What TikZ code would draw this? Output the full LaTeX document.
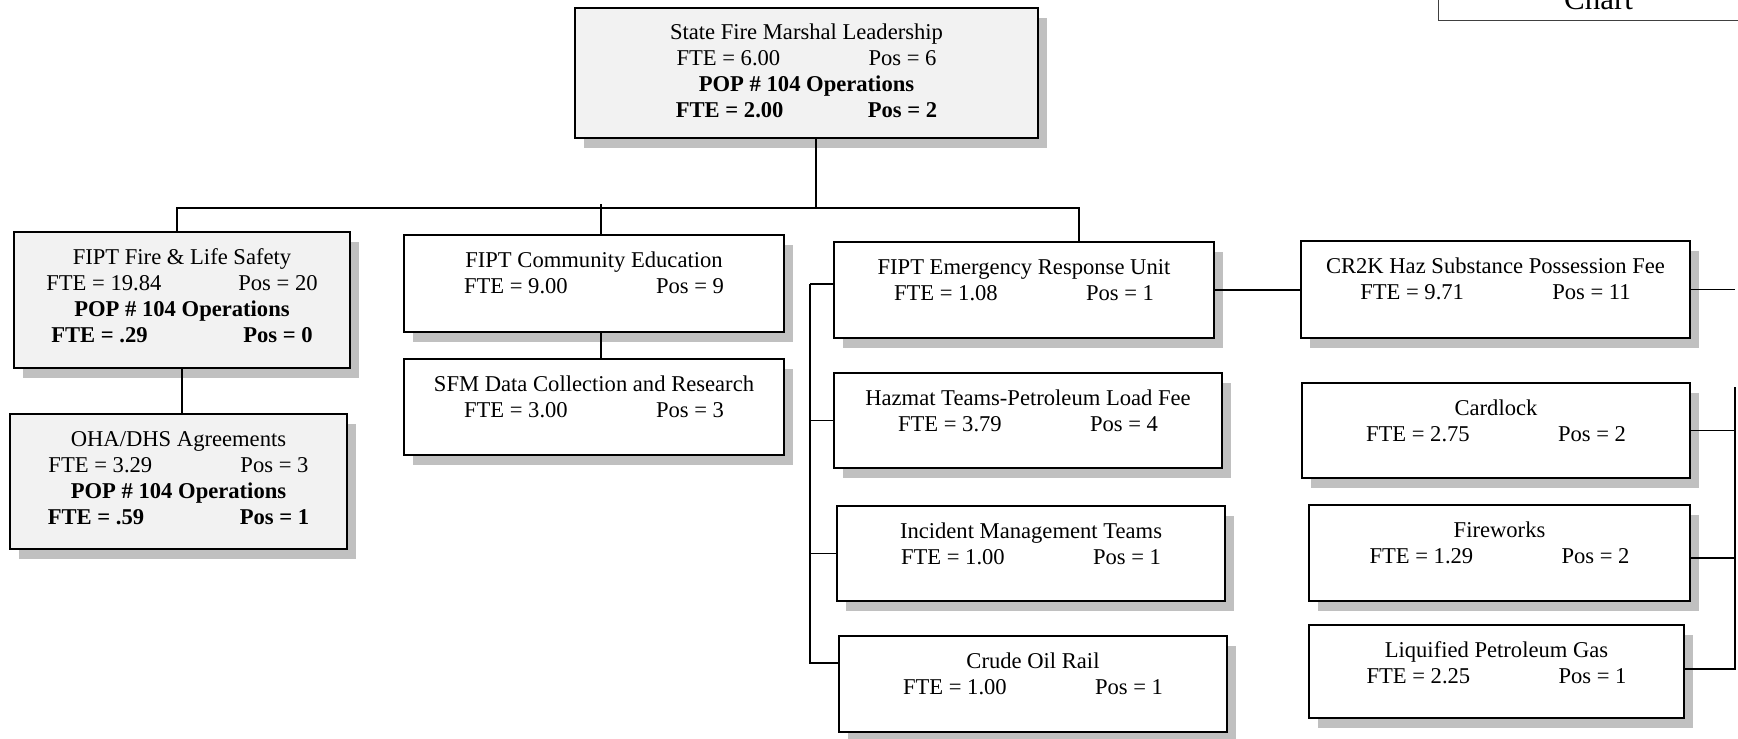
\documentclass[tikz,border=0pt]{standalone}
\usepackage{fontspec}
\setmainfont{Liberation Serif}
\usepackage{xcolor}
\usepackage{tikz}
\usetikzlibrary{shadows}
\definecolor{unitgray}{HTML}{F2F2F2}
\definecolor{shadegray}{HTML}{C0C0C0}
\tikzstyle{unit} = [draw=black,line width=1pt,fill=white,inner sep=0pt,anchor=north west,font=\fontsize{11.3}{13}\selectfont,drop shadow={shadow xshift=4.5pt,shadow yshift=-5pt,fill=shadegray,opacity=1}]
\tikzstyle{greyunit} = [unit,fill=unitgray]
\tikzstyle{chartbox} = [draw=black!75,line width=0.6pt,anchor=south west,minimum width=160pt,inner ysep=5.5pt,font=\fontsize{15.5}{18}\selectfont]
\tikzstyle{link} = [line width=0.7pt]
\newcommand{\ftepos}[2]{\makebox[96pt][l]{FTE = #1}Pos = #2}
\newcommand{\unittext}[3]{\parbox[c][#2][t]{#1}{\centering\rule{0pt}{16pt}#3}}

\begin{document}
\begin{tikzpicture}[x=0.5pt,y=-0.5pt]
            % page
          \useasboundingbox (0,0) rectangle (1738,738);
          \clip (0,0) rectangle (1738,738);

            % units
          \node[greyunit] (lead) at (574,7) {\unittext{231.5pt}{65pt}{State Fire Marshal Leadership\\ \ftepos{6.00}{6}\\ \textbf{POP \# 104 Operations}\\ \textbf{\ftepos{2.00}{2}}}};
          \node[greyunit] (fls) at (13,231) {\unittext{168pt}{68pt}{FIPT Fire \& Life Safety\\ \ftepos{19.84}{20}\\ \textbf{POP \# 104 Operations}\\ \textbf{\ftepos{.29}{0}}}};
          \node[greyunit] (oha) at (9,413) {\unittext{168.5pt}{67.5pt}{OHA/DHS Agreements\\ \ftepos{3.29}{3}\\ \textbf{POP \# 104 Operations}\\ \textbf{\ftepos{.59}{1}}}};
          \node[unit] (ced) at (403,234) {\unittext{190pt}{48.5pt}{FIPT Community Education\\ \ftepos{9.00}{9}}};
          \node[unit] (sfm) at (403,358) {\unittext{190pt}{48pt}{SFM Data Collection and Research\\ \ftepos{3.00}{3}}};
          \node[unit] (eru) at (833,241) {\unittext{190pt}{48pt}{FIPT Emergency Response Unit\\ \ftepos{1.08}{1}}};
          \node[unit] (haz) at (833,372) {\unittext{194pt}{47.5pt}{Hazmat Teams-Petroleum Load Fee\\ \ftepos{3.79}{4}}};
          \node[unit] (imt) at (836,505) {\unittext{194pt}{47.5pt}{Incident Management Teams\\ \ftepos{1.00}{1}}};
          \node[unit] (cor) at (838,635) {\unittext{194pt}{48pt}{Crude Oil Rail\\ \ftepos{1.00}{1}}};
          \node[unit] (cr2k) at (1300,240) {\unittext{194.5pt}{48.5pt}{CR2K Haz Substance Possession Fee\\ \ftepos{9.71}{11}}};
          \node[unit] (card) at (1301,382) {\unittext{194pt}{47.5pt}{Cardlock\\ \ftepos{2.75}{2}}};
          \node[unit] (fw) at (1308,504) {\unittext{190.5pt}{48pt}{Fireworks\\ \ftepos{1.29}{2}}};
          \node[unit] (lpg) at (1308,624) {\unittext{187.5pt}{46.5pt}{Liquified Petroleum Gas\\ \ftepos{2.25}{1}}};
          \node[chartbox] (chart) at (1438,21) {Chart};

            % connectors
          \coordinate (bus-l) at (177,208);
          \coordinate (bus-r) at (1079,208);
          \coordinate (ced-stem) at (601,204);
          \coordinate (erb-top) at (810,284);
          \coordinate (erb-bot) at (810,663);
          \coordinate (rb-top) at (1735,387);
          \coordinate (rb-bot) at (1735,669);

          \draw[link] ([xshift=4.75pt]lead.south) -- ([xshift=4.75pt]lead.south |- bus-r);
          \draw[link] (fls.north -| bus-l) |- (bus-r) -- (bus-r |- eru.north);
          \draw[link] (fls.south) -- (fls.south |- oha.north);
          \draw[link] (ced-stem) -- (ced-stem |- ced.north);
          \draw[link] (ced.south -| ced-stem) -- (ced-stem |- sfm.north);

          \draw[link] (erb-top) -- (erb-bot) -- (erb-bot -| cor.west);
          \draw[link] (erb-top) -- (erb-top -| eru.west);
          \draw[link] (haz.west) -- (haz.west -| erb-top);
          \draw[link] (imt.west) -- (imt.west -| erb-top);

          \draw[link] (eru.east) -- (eru.east -| cr2k.west);
          \draw[link] (cr2k.east) -- (cr2k.east -| rb-top);
          \draw[link] (rb-top) -- (rb-bot) -- (rb-bot -| lpg.east);
          \draw[link] (card.east) -- (card.east -| rb-top);
          \draw[link] ([yshift=-2.5pt]fw.east) -- ([yshift=-2.5pt]fw.east -| rb-top);
\end{tikzpicture}
\end{document}
